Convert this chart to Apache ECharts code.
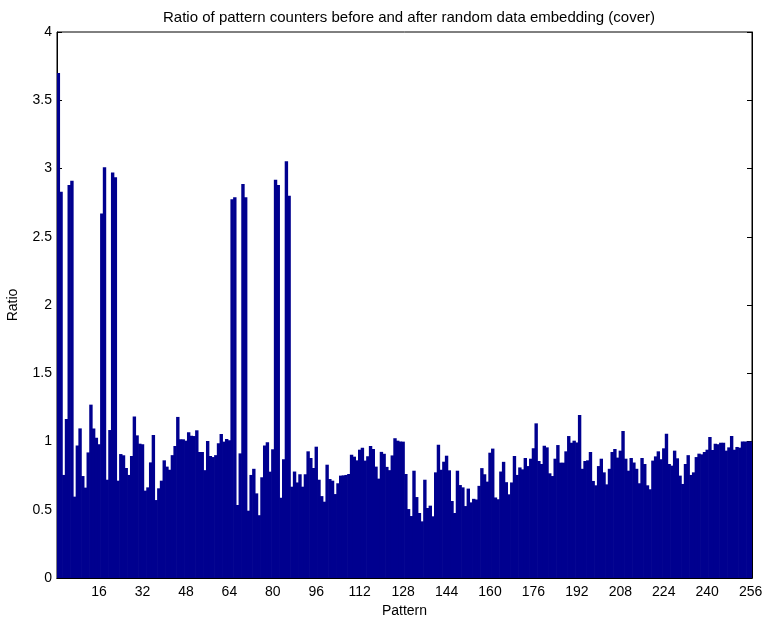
<!DOCTYPE html>
<html>
<head>
<meta charset="utf-8">
<script src="https://cdn.jsdelivr.net/npm/echarts@6/dist/echarts.min.js"></script>
<style>
  html, body { margin: 0; padding: 0; background: #fff; }
  #chart { width: 765px; height: 623px; }
</style>
</head>
<body>
<div id="chart"></div>
<script>
// pattern index 1..256
const patterns = Array.from({ length: 256 }, (_, i) => String(i + 1))

// ratio per pattern, 16 per row
const ratio = [
  3.70, 2.83, 0.755, 1.165, 2.88, 2.91, 0.596, 0.97, 1.096, 0.747, 0.662, 0.92, 1.27, 1.096, 1.028, 0.98,
  2.67, 3.01, 0.72, 1.084, 2.97, 2.935, 0.713, 0.908, 0.899, 0.806, 0.755, 0.894, 1.184, 1.045, 0.984, 0.98,
  0.64, 0.664, 0.847, 1.048, 0.571, 0.657, 0.713, 0.862, 0.816, 0.793, 0.90, 0.967, 1.18, 1.016, 1.016, 1.006,
  1.067, 1.043, 1.04, 1.082, 0.923, 0.923, 0.79, 1.004, 0.894, 0.886, 0.90, 0.987, 1.055, 0.999, 1.018, 1.01,
  2.774, 2.789, 0.535, 0.913, 2.886, 2.789, 0.493, 0.755, 0.80, 0.62, 0.46, 0.738, 0.97, 0.994, 0.779, 0.943,
  2.918, 2.879, 0.588, 0.87, 3.053, 2.80, 0.669, 0.78, 0.70, 0.76, 0.669, 0.76, 0.928, 0.879, 0.806, 0.962,
  0.72, 0.60, 0.559, 0.83, 0.725, 0.713, 0.615, 0.694, 0.75, 0.752, 0.755, 0.762, 0.903, 0.889, 0.862, 0.94,
  0.955, 0.86, 0.892, 0.967, 0.945, 0.816, 0.728, 0.924, 0.91, 0.814, 0.79, 0.898, 1.024, 1.006, 1.0, 0.999,
  0.762, 0.505, 0.454, 0.786, 0.593, 0.476, 0.415, 0.72, 0.513, 0.53, 0.452, 0.774, 0.977, 0.793, 0.852, 0.896,
  0.789, 0.564, 0.476, 0.786, 0.681, 0.664, 0.527, 0.655, 0.554, 0.58, 0.575, 0.675, 0.805, 0.76, 0.706, 0.918,
  0.948, 0.59, 0.577, 0.78, 0.851, 0.702, 0.613, 0.70, 0.894, 0.755, 0.81, 0.796, 0.879, 0.82, 0.874, 0.95,
  1.133, 0.857, 0.835, 0.969, 0.957, 0.767, 0.747, 0.874, 0.974, 0.845, 0.845, 0.928, 1.04, 0.991, 1.006, 0.993,
  1.194, 0.80, 0.857, 0.862, 0.923, 0.711, 0.679, 0.82, 0.874, 0.774, 0.686, 0.80, 0.923, 0.945, 0.882, 0.933,
  1.077, 0.874, 0.786, 0.879, 0.846, 0.80, 0.694, 0.879, 0.835, 0.679, 0.65, 0.86, 0.891, 0.928, 0.87, 0.95,
  1.057, 0.835, 0.823, 0.933, 0.877, 0.75, 0.689, 0.835, 0.90, 0.755, 0.774, 0.886, 0.911, 0.906, 0.923, 0.94,
  1.033, 0.938, 0.984, 0.98, 0.991, 0.991, 0.933, 0.957, 1.04, 0.94, 0.96, 0.955, 1.00, 1.00, 1.00, 1.00
]

// x tick labels shown under the axis
const xTickLabels = ['16', '32', '48', '64', '80', '96', '112', '128', '144', '160', '176', '192', '208', '224', '240', '256']

const FONT = 'Liberation Sans, Arial, Helvetica, sans-serif'
const BAR = '#00008F'
const showTick = (idx, val) => xTickLabels.indexOf(val) >= 0

const chart = echarts.init(document.getElementById('chart'), null, { renderer: 'canvas' })
const option = {
  animation: false,
  backgroundColor: '#fff',
  title: {
    text: 'Ratio of pattern counters before and after random data embedding (cover)',
    left: 404,
    top: 5,
    textAlign: 'center',
    textStyle: { fontFamily: FONT, fontSize: 15, fontWeight: 'normal', color: '#000' },
  },
  grid: {
    left: 57, top: 32, width: 695, height: 546,
    outerBoundsMode: 'none', // keep the plot box fixed even if the "256" label runs past the edge
    show: true, borderColor: '#000', borderWidth: 1,
  },
  xAxis: [
    {
      type: 'category',
      data: patterns,
      position: 'bottom',
      boundaryGap: true,
      name: 'Pattern',
      nameLocation: 'middle',
      nameGap: 23,
      nameTextStyle: { fontFamily: FONT, fontSize: 14, color: '#000' },
      axisLine: { lineStyle: { color: '#000', width: 1 } },
      axisTick: { inside: true, length: 5, interval: showTick, alignWithLabel: true, lineStyle: { color: '#000' } },
      axisLabel: { interval: showTick, fontFamily: FONT, fontSize: 14, color: '#000', margin: 7 },
      splitLine: { show: false },
    },
    {
      type: 'category',
      data: patterns,
      position: 'top',
      boundaryGap: true,
      axisLine: { lineStyle: { color: '#000', width: 1 } },
      axisTick: { inside: true, length: 5, interval: showTick, alignWithLabel: true, lineStyle: { color: '#000' } },
      axisLabel: { show: false },
      splitLine: { show: false },
    },
  ],
  yAxis: [
    {
      type: 'value',
      min: 0,
      max: 4,
      interval: 0.5,
      position: 'left',
      name: 'Ratio',
      nameLocation: 'middle',
      nameGap: 37,
      nameRotate: 90,
      nameTextStyle: { fontFamily: FONT, fontSize: 14, color: '#000' },
      axisLine: { show: true, lineStyle: { color: '#000', width: 1 } },
      axisTick: { show: true, inside: true, length: 5, lineStyle: { color: '#000' } },
      axisLabel: { fontFamily: FONT, fontSize: 14, color: '#000', margin: 5 },
      splitLine: { show: false },
    },
    {
      type: 'value',
      min: 0,
      max: 4,
      interval: 0.5,
      position: 'right',
      axisLine: { show: true, lineStyle: { color: '#000', width: 1 } },
      axisTick: { show: true, inside: true, length: 5, lineStyle: { color: '#000' } },
      axisLabel: { show: false },
      splitLine: { show: false },
    },
  ],
  series: [
    {
      type: 'bar',
      data: ratio,
      xAxisIndex: 0,
      yAxisIndex: 0,
      // band is ~2.7px; a little wider so neighbouring bars overlap and no white seams show
      barWidth: 3.4,
      itemStyle: { color: BAR },
      z: 2,
    },
  ],
}
option && chart.setOption(option)
</script>
</body>
</html>
